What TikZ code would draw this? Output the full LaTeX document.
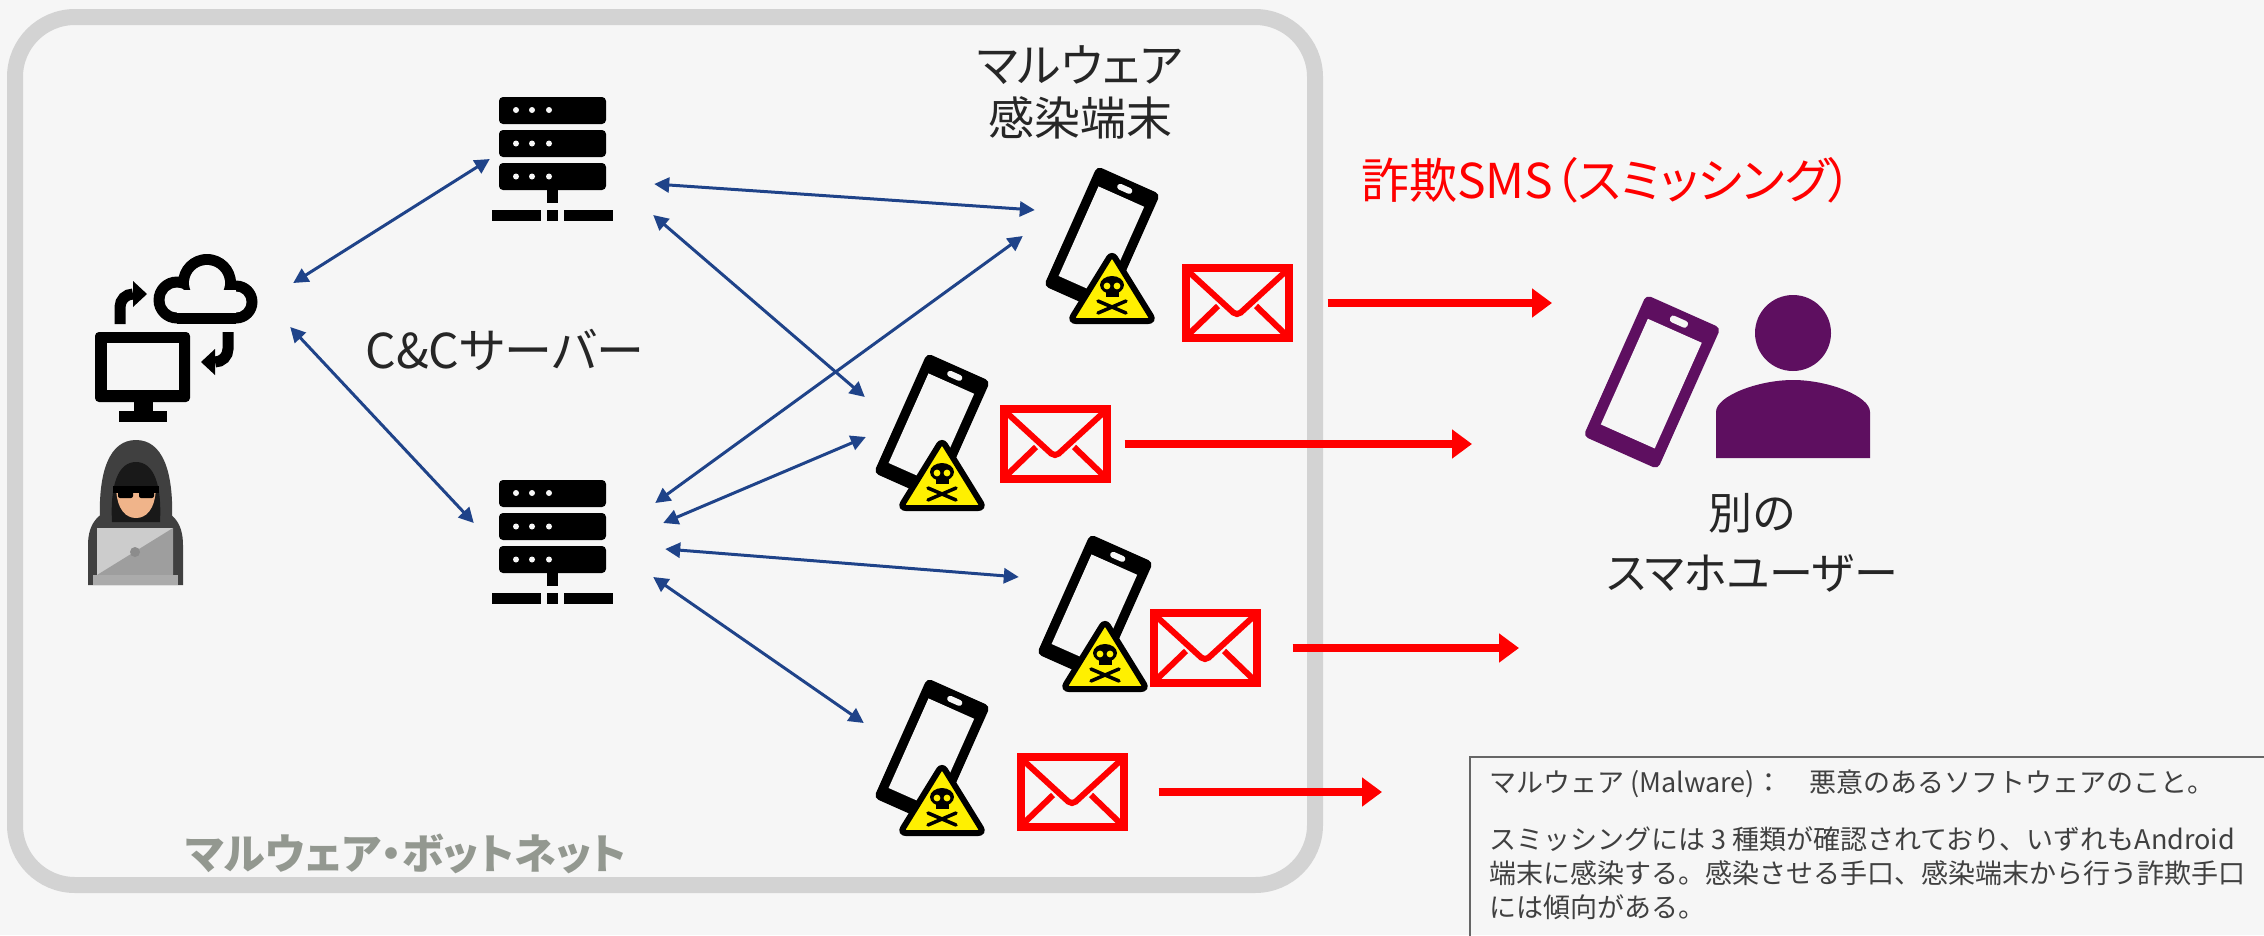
\documentclass[tikz,border=0pt]{standalone}
\usepackage{fontspec}
\newfontfamily\jp[RawFeature=+palt]{Noto Sans CJK JP}
\newfontfamily\jpnote{Noto Sans CJK JP}
\usetikzlibrary{arrows.meta}

\definecolor{bgcol}{RGB}{246,246,246}
\definecolor{framecol}{RGB}{211,211,211}
\definecolor{linkblue}{RGB}{31,67,137}
\definecolor{smsred}{RGB}{255,0,0}
\definecolor{ink}{RGB}{38,38,38}
\definecolor{botgray}{RGB}{147,152,144}
\definecolor{notegray}{RGB}{64,64,64}
\definecolor{userpurple}{RGB}{94,15,96}
\definecolor{warnyellow}{RGB}{255,240,0}
\definecolor{hoodgray}{RGB}{64,64,64}
\definecolor{skin}{RGB}{240,180,138}

\tikzset{
  hub/.style={inner sep=0pt, minimum height=124pt},
  link/.style={<->, >={Triangle[length=15pt,width=15pt]}, linkblue, line width=3pt},
  sms/.style={-{Triangle[length=20pt,width=28pt]}, smsred, line width=8pt},
  txt/.style={text=ink, align=center, font=\jp\fontsize{46}{54}\selectfont},
}

% rack server, centred on #1,#2
\newcommand{\drawserver}[2]{%
  \begin{scope}[shift={(#1,#2)}]
    \foreach \r in {-62,-29,4}
      \fill[rounded corners=4pt] (-53.5,\r) rectangle (53.5,\r+27);
    \foreach \r in {-49,-15.5,17.5}
      \foreach \d in {-36.5,-20.5,-3.5}
        \fill[bgcol] (\d,\r) circle (3);
    \fill (-5.5,31) rectangle (5.5,44);
    \fill (-5.5,51) rectangle (5.5,62);
    \fill (-60.5,51) rectangle (-11.5,62);
    \fill (11.5,51) rectangle (60.5,62);
  \end{scope}}

% tilted smartphone: x, y, scale, colour
\newcommand{\drawphone}[4]{%
  \begin{scope}[shift={(#1,#2)}, rotate=-24, scale=#3]
    \fill[#4, rounded corners=5pt] (-34.5,-65.5) rectangle (34.5,65.5);
    \fill[bgcol] (-25,-47.5) rectangle (25,50.5);
    \fill[bgcol, rounded corners=3pt] (-8,-59) rectangle (8,-53);
  \end{scope}}

% poison warning sign
\newcommand{\drawwarn}[2]{%
  \begin{scope}[shift={(#1,#2)}]
    \filldraw[fill=warnyellow, draw=black, line width=6pt, rounded corners=6pt]
      (0,-34) -- (42,34) -- (-42,34) -- cycle;
    \fill (0,-2) ellipse (12 and 9);
    \fill (-6.5,2) rectangle (6.5,10);
    \fill[warnyellow] (-5,-1) circle (3.4) (5,-1) circle (3.4);
    \draw[line width=3.5pt, line cap=round] (-14,14) -- (14,26) (-14,26) -- (14,14);
  \end{scope}}

% envelope
\newcommand{\drawmail}[2]{%
  \begin{scope}[shift={(#1,#2)}, smsred]
    \draw[line width=8pt] (-51.5,-35) rectangle (51.5,35);
    \draw[line width=6pt, rounded corners=5pt] (-48,-31) -- (0,13) -- (48,-31);
    \draw[line width=6pt] (-48,31) -- (-19,3) (48,31) -- (19,3);
  \end{scope}}

\begin{document}
\begin{tikzpicture}[x=1pt,y=-1pt]
\useasboundingbox (0,0) rectangle (2264,935);
\clip (0,0) rectangle (2264,935);
\fill[bgcol] (0,0) rectangle (2264,935);

% botnet frame
\draw[framecol, line width=16pt, rounded corners=60pt] (15,17) rectangle (1315,885);

% computer
\fill[rounded corners=4pt] (95,332) rectangle (190,402);
\fill[bgcol] (107,343) rectangle (179,390);
\fill (134,402) rectangle (153,411);
\fill (119,411) rectangle (167,422);
% cloud
\foreach \cx/\cy/\cr in {177/300/23.5, 207/283/29, 236/302/21.5}
  \fill (\cx,\cy) circle (\cr);
\fill (177,290) rectangle (236,323.5);
\foreach \cx/\cy/\cr in {177/300/12.5, 207/283/18, 236/302/10.5}
  \fill[bgcol] (\cx,\cy) circle (\cr);
\fill[bgcol] (177,290) rectangle (236,312.5);
% sync arrows
\draw[line width=11pt] (120,324) -- (120,307) arc[start angle=180, end angle=270, radius=13];
\fill (133,281) -- (147,294) -- (133,307) -- cycle;
\draw[line width=11pt] (228,332) -- (228,349) arc[start angle=0, end angle=90, radius=13];
\fill (215,349) -- (201,362) -- (215,375) -- cycle;

% hacker
\fill[hoodgray] (88,585) -- (88,545) .. controls (88,522) and (100,510) .. (120,508)
  -- (152,508) .. controls (172,510) and (183,522) .. (183,545) -- (183,585) -- cycle;
\fill[hoodgray] (100,522) .. controls (98,470) and (110,440) .. (136,440)
  .. controls (162,440) and (174,470) .. (172,522) -- cycle;
\fill[black!90] (112,522) .. controls (110,485) and (118,462) .. (136,462)
  .. controls (154,462) and (162,485) .. (160,522) -- cycle;
\fill[skin] (116,488) .. controls (117,510) and (126,518) .. (136,518)
  .. controls (146,518) and (155,510) .. (156,488) -- cycle;
\fill[black] (113,486) rectangle (159,493);
\fill[black, rounded corners=2pt] (118,486) rectangle (133,498);
\fill[black, rounded corners=2pt] (139,486) rectangle (154,498);
\fill[black!20] (97,528) rectangle (173,575);
\fill[black!38] (173,528) -- (173,575) -- (97,575) -- cycle;
\fill[black!45] (135,552) circle (5);
\fill[black!33] (93,575) rectangle (178,585);

% C&C servers
\drawserver{552.5}{159}
\drawserver{552.5}{542}

% infected phones with their SMS
\foreach \px/\py/\mx/\my in {1102/240/1237/303, 932/427/1055/444,
                              1095/608/1205/648, 932/752/1072/792}{
  \drawphone{\px}{\py}{1}{black}
  \drawwarn{\px+10}{\py+47}
  \drawmail{\mx}{\my}
}

% victim
\drawphone{1652}{382}{1.18}{userpurple}
\fill[userpurple] (1793,333) circle (38);
\fill[userpurple] (1716,458) -- (1716,412) .. controls (1716,396) and (1758,380) .. (1793,380)
  .. controls (1828,380) and (1870,396) .. (1870,412) -- (1870,458) -- cycle;

% anchors for the connectors
\node[hub, minimum width=204pt] (pc) at (190,305) {};
\node[hub, minimum width=164pt] (srvA) at (572,159) {};
\node[hub, minimum width=188pt] (srvB) at (568,542) {};
\node[hub, minimum width=140pt] (ph1) at (1102,240) {};
\node[hub, minimum width=140pt] (ph2) at (932,427) {};
\node[hub, minimum width=140pt] (ph3) at (1095,608) {};
\node[hub, minimum width=140pt] (ph4) at (932,752) {};
\node[hub, minimum width=111pt, minimum height=78pt] (mail1) at (1237,303) {};
\node[hub, minimum width=111pt, minimum height=78pt] (mail2) at (1055,444) {};
\node[hub, minimum width=111pt, minimum height=78pt] (mail3) at (1205,648) {};
\node[hub, minimum width=111pt, minimum height=78pt] (mail4) at (1072,792) {};
\coordinate (hit1) at (1552,303);
\coordinate (hit2) at (1472,444);
\coordinate (hit3) at (1519,648);
\coordinate (hit4) at (1382,792);

% command and control links
\draw[link] ([shift={(1,-22)}]pc.east) -- (srvA.west);
\draw[link] ([shift={(-2,22)}]pc.east) -- ([shift={(0,-19)}]srvB.west);
\draw[link] ([shift={(0,25)}]srvA.east) -- ([shift={(3,-30)}]ph1.west);
\draw[link] ([shift={(-1,56)}]srvA.east) -- ([shift={(3,-30)}]ph2.west);
\draw[link] ([shift={(-7,-39)}]srvB.east) -- ([shift={(-9,-4)}]ph1.west);
\draw[link] ([shift={(1,-19)}]srvB.east) -- ([shift={(4,10)}]ph2.west);
\draw[link] ([shift={(3,7)}]srvB.east) -- ([shift={(-6,-31)}]ph3.west);
\draw[link] ([shift={(-9,35)}]srvB.east) -- ([shift={(2,-29)}]ph4.west);

% smishing messages
\draw[sms] ([xshift=35pt]mail1.east) -- (hit1);
\draw[sms] ([xshift=14pt]mail2.east) -- (hit2);
\draw[sms] ([xshift=32pt]mail3.east) -- (hit3);
\draw[sms] ([xshift=31pt]mail4.east) -- (hit4);

% labels
\node[txt, font=\jp\fontsize{48}{56}\selectfont] (cctext) at (505,350) {C\&Cサーバー};
\node[txt, font=\jp\fontsize{46}{53}\selectfont] (infected) at (1080,92) {マルウェア\\感染端末};
\node[txt, text=smsred, font=\jp\fontsize{48}{56}\selectfont] (smstext) at (1607,180) {詐欺SMS（スミッシング）};
\node[txt, font=\jp\fontsize{44}{60}\selectfont] (victim) at (1752,543) {別の\\スマホユーザー};
\node[txt, text=botgray, font=\jp\bfseries\fontsize{42}{50}\selectfont] (botnet) at (406,854) {マルウェア・ボットネット};

% glossary box
\draw[notegray!80, line width=2pt] (1470,757) rectangle (2300,970);
\node[anchor=north west, align=left, inner sep=0pt, text=notegray,
      font=\jpnote\fontsize{27}{34}\selectfont] (note) at (1489,770)
  {マルウェア (Malware)：　悪意のあるソフトウェアのこと。\\[23pt]
   スミッシングには 3 種類が確認されており、いずれもAndroid\\
   端末に感染する。感染させる手口、感染端末から行う詐欺手口\\
   には傾向がある。};
\end{tikzpicture}
\end{document}
